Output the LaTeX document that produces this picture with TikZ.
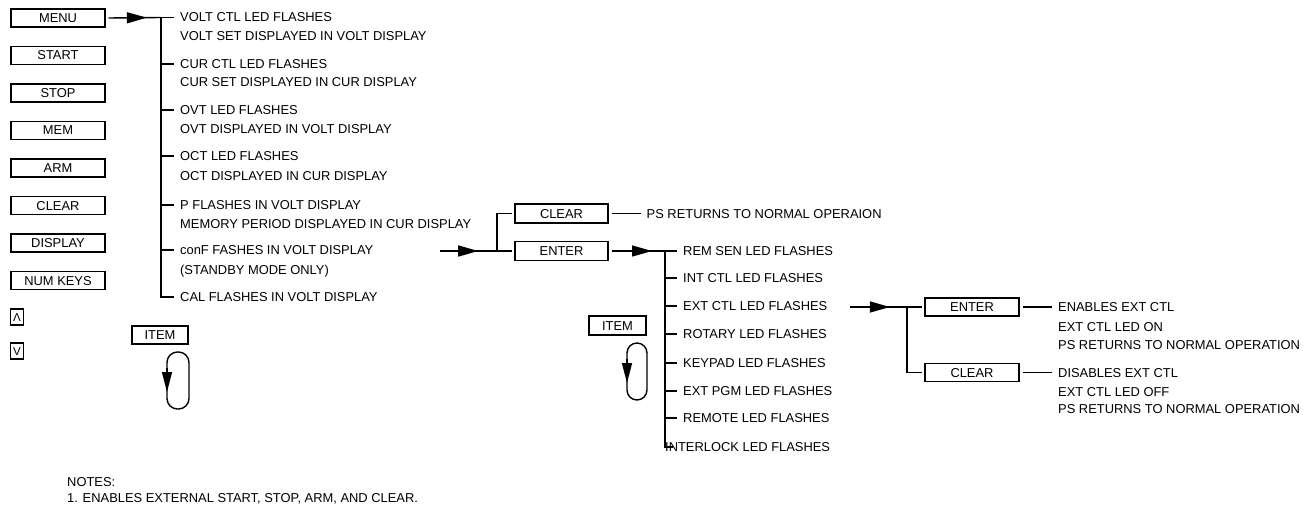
\documentclass[tikz,border=0pt]{standalone}
\usepackage{fontspec}
\setmainfont{Liberation Sans}
\usetikzlibrary{arrows.meta,decorations.markings}
\begin{document}
\begin{tikzpicture}[x=1pt,y=-1pt,
  font=\fontsize{12.9}{14}\selectfont,
  box/.style={draw, line width=1.7pt, minimum width=94pt, minimum height=18pt, inner sep=0pt, text height=9pt, text depth=0pt, outer sep=3.5pt},
  keybox/.style={draw, line width=1.7pt, minimum width=13pt, minimum height=16pt, inner sep=0pt, text height=8.5pt, text depth=0pt, font=\fontsize{11.5}{12}\selectfont},
  lbl/.style={anchor=west, inner xsep=6pt, inner ysep=0pt, text height=9pt, text depth=0pt},
  note/.style={anchor=west, inner sep=0pt, text height=9pt, text depth=0pt},
  ln/.style={line width=1.4pt},
  midarrow/.style={ln, postaction={decorate}, decoration={markings, mark=at position #1 with {\arrow{Triangle[length=20pt,width=11pt]}}}},
  looparrow/.style={ln, -{Triangle[length=20pt,width=10pt]}},
]
\useasboundingbox (0,0) rectangle (1313,508);

% left column of keys
\node[box] (menu) at (58,18) {MENU};
\node[box] (start) at (58,55.5) {START};
\node[box] (stop) at (58,93) {STOP};
\node[box] (mem) at (58,130.5) {MEM};
\node[box] (arm) at (58,168) {ARM};
\node[box] (clearL) at (58,205.5) {CLEAR};
\node[box] (display) at (58,243) {DISPLAY};
\node[box] (numkeys) at (58,280.5) {NUM KEYS};
\node[keybox] (up) at (17,317) {Λ};
\node[keybox] (down) at (17,351) {V};

% menu items
\node[lbl] (a1) at (174,17.5) {VOLT CTL LED FLASHES};
\node[lbl] (a1b) at (174,36) {VOLT SET DISPLAYED IN VOLT DISPLAY};
\node[lbl] (a2) at (174,64) {CUR CTL LED FLASHES};
\node[lbl] (a2b) at (174,82.5) {CUR SET DISPLAYED IN CUR DISPLAY};
\node[lbl] (a3) at (174,110) {OVT LED FLASHES};
\node[lbl] (a3b) at (174,128.5) {OVT DISPLAYED IN VOLT DISPLAY};
\node[lbl] (a4) at (174,156) {OCT LED FLASHES};
\node[lbl] (a4b) at (174,176) {OCT DISPLAYED IN CUR DISPLAY};
\node[lbl] (a5) at (174,205) {P FLASHES IN VOLT DISPLAY};
\node[lbl] (a5b) at (174,223.5) {MEMORY PERIOD DISPLAYED IN CUR DISPLAY};
\node[lbl] (a6) at (174,250) {conF FASHES IN VOLT DISPLAY};
\node[lbl] (a6b) at (174,269.5) {(STANDBY MODE ONLY)};
\node[lbl] (a7) at (174,297) {CAL FLASHES IN VOLT DISPLAY};

\coordinate (j1) at (161,17.5);
\draw[midarrow=0.73] (menu.east) -- (j1);
\draw[ln] (j1) -- (a1.west);
\draw[ln] (j1) |- (a7.west);
\foreach \n in {a2,a3,a4,a5,a6} \draw[ln] (j1 |- \n.west) -- (\n.west);

% left ITEM loop
\node[box, minimum width=56pt] (itemL) at (160,335) {ITEM};
\draw[ln, rounded corners=10.5pt] (167,352) rectangle (189,409);
\coordinate (la1) at (167,368);
\coordinate (la2) at (167,392);
\draw[looparrow] (la1) -- (la2);

% middle: conF branch
\coordinate (s2) at (440,251);
\coordinate (j2) at (497,251);
\node[box, minimum width=93pt, minimum height=19pt] (clearM) at (561.5,213.5) {CLEAR};
\node[box, minimum width=93pt, minimum height=19pt] (enterM) at (561.5,251) {ENTER};
\draw[midarrow=0.67] (s2) -- (j2);
\draw[ln] (enterM.west) -- (j2) |- (clearM.west);
\node[lbl] (ps1) at (640.5,213.5) {PS RETURNS TO NORMAL OPERAION};
\draw[ln] (clearM.east) -- (ps1.west);

\node[lbl] (b1) at (677,251) {REM SEN LED FLASHES};
\node[lbl] (b2) at (677,278) {INT CTL LED FLASHES};
\node[lbl] (b3) at (677,306) {EXT CTL LED FLASHES};
\node[lbl] (b4) at (677,334) {ROTARY LED FLASHES};
\node[lbl] (b5) at (677,363) {KEYPAD LED FLASHES};
\node[lbl] (b6) at (677,391) {EXT PGM LED FLASHES};
\node[lbl] (b7) at (677,418) {REMOTE LED FLASHES};
\node[lbl, inner xsep=1pt] (b8) at (664,447) {INTERLOCK LED FLASHES};

\coordinate (j3) at (665,251);
\draw[midarrow=0.757] (enterM.east) -- (j3);
\draw[ln] (j3) -- (b1.west);
\draw[ln] (j3) |- ([xshift=9pt]b8.west);
\foreach \n in {b2,b3,b4,b5,b6,b7} \draw[ln] (j3 |- \n.west) -- (\n.west);

% middle ITEM loop
\node[box, minimum width=57pt, minimum height=19pt] (itemM) at (617.5,325.5) {ITEM};
\draw[ln, rounded corners=10pt] (627,343) rectangle (647,400);
\coordinate (ma1) at (627,359);
\coordinate (ma2) at (627,383);
\draw[looparrow] (ma1) -- (ma2);

% right: EXT CTL branch
\coordinate (s3) at (850,307);
\coordinate (j4) at (907,307);
\node[box] (enterR) at (972,307) {ENTER};
\node[box] (clearR) at (972,372.5) {CLEAR};
\draw[midarrow=0.7] (s3) -- (j4);
\draw[ln] (enterR.west) -- (j4) |- (clearR.west);
\node[lbl] (r1) at (1052,307) {ENABLES EXT CTL};
\node[lbl] (r2) at (1052,326.5) {EXT CTL LED ON};
\node[lbl] (r3) at (1052,344.5) {PS RETURNS TO NORMAL OPERATION};
\node[lbl] (r4) at (1052,372.5) {DISABLES EXT CTL};
\node[lbl] (r5) at (1052,391.5) {EXT CTL LED OFF};
\node[lbl] (r6) at (1052,408.5) {PS RETURNS TO NORMAL OPERATION};
\draw[ln] (enterR.east) -- (r1.west);
\draw[ln] (clearR.east) -- (r4.west);

% notes
\node[note] (notes) at (67,482) {NOTES:};
\node[note] (note1) at (67,498) {1. ENABLES EXTERNAL START, STOP, ARM, AND CLEAR.};
\end{tikzpicture}
\end{document}
